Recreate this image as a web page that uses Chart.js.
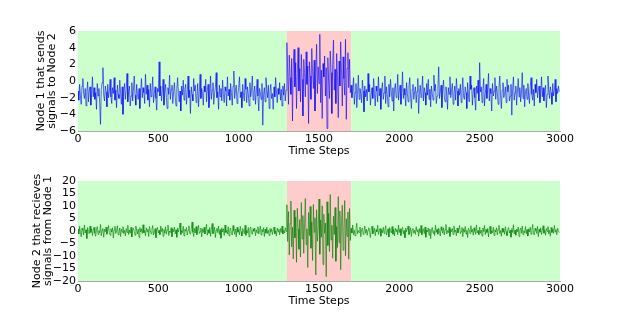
<!DOCTYPE html>
<html>
<head>
<meta charset="utf-8">
<script src="https://cdn.jsdelivr.net/npm/chart.js@4"></script>
<style>
  body { margin: 0; background: #fff; }
  .box { position: absolute; left: 0; width: 623px; height: 160px; }
</style>
</head>
<body>
<div class="box" style="top:0px"><canvas id="top" width="623" height="160"></canvas></div>
<div class="box" style="top:150px"><canvas id="bottom" width="623" height="160"></canvas></div>
<script>
// one sample every 5 time steps (20 per row = 100 steps)
const STEP = 5;

const node1 = [
  -1.2,-2.3,-0.4,-1.7,-2.8,-0.6,0.3,-1.5,-2.1,-0.9,-3.0,-1.3,-0.1,-2.5,-1.1,-0.7,-2.9,-1.6,0.5,-1.9,
  -0.8,-2.2,-1.4,-3.4,-0.3,-1.8,-0.9,-2.6,-5.2,-1.0,-0.2,1.6,-1.7,-2.4,-0.6,-1.3,-3.1,-0.4,-2.0,-1.2,
  0.2,-1.9,-2.7,-0.8,-1.5,0.4,-2.3,-1.1,-3.2,-0.5,-1.6,-2.1,0.1,-1.4,-2.8,-0.7,-4.0,-1.2,-0.3,-2.2,
  -1.0,0.9,-2.5,-1.3,-0.6,-3.0,-1.8,-0.2,-2.4,-1.1,0.6,-1.7,-2.9,-0.4,-1.5,-2.2,-0.9,-3.3,-1.2,0.3,
  -2.0,-0.8,-1.4,-2.7,0.8,-1.6,-0.5,-2.3,-1.0,-3.1,-0.3,-1.9,-1.2,0.5,-2.6,-1.5,-0.7,-2.1,-3.5,-0.9,
  -1.3,2.3,-1.8,-0.6,-2.4,-1.1,0.2,-2.9,-1.4,-0.4,-2.0,-3.3,-0.8,-1.6,0.7,-2.2,-1.0,-0.5,-2.7,-1.3,
  -0.2,-1.9,-3.0,-0.9,0.4,-1.5,-2.5,-1.2,-3.6,-0.6,-1.7,0.1,-2.3,-1.0,-0.4,-2.8,-1.4,0.6,-2.0,-1.1,
  -3.9,-0.7,-1.6,-2.4,0.3,-1.2,-0.5,-2.6,-1.8,-0.3,-3.1,-1.4,0.8,-2.1,-0.9,-1.5,-2.9,-0.6,-1.3,0.2,
  -2.5,-1.0,-0.4,-3.2,-1.7,0.6,-2.2,-1.1,-0.2,-2.8,-1.5,-0.8,1.0,-2.0,-1.3,-3.4,-0.5,-1.9,-0.9,-2.4,
  0.1,-1.6,-2.6,-0.7,-1.2,-3.0,0.5,-1.8,-1.0,-2.3,-0.3,-1.4,-2.9,-0.6,1.2,-2.1,-1.1,-0.5,-2.7,-1.5,
  -0.8,0.5,-2.0,-1.3,-3.2,-0.4,-1.7,-2.4,0.3,-1.0,-2.6,-0.7,-1.5,-3.0,-0.2,-1.9,-1.1,0.6,-2.3,-1.4,
  -0.6,-2.8,-1.2,0.2,-1.8,-3.6,-0.9,-1.4,-2.2,-0.3,-5.3,-1.6,-0.8,-2.5,0.4,-1.1,-2.0,-0.5,-3.3,-1.3,
  -0.4,-2.1,-1.5,-3.4,-0.7,-1.9,0.4,-1.2,-2.6,-0.9,-1.6,-0.2,-2.3,-1.0,-3.0,-0.6,-1.7,-0.3,-2.4,-1.1,
  4.6,1.2,-2.8,3.1,0.4,-1.6,2.7,-4.8,1.9,3.8,-0.7,2.2,-3.3,0.9,4.0,-1.2,1.5,-2.5,3.2,0.2,
  -4.2,2.6,1.0,-1.9,3.5,-0.4,1.8,-5.1,2.3,0.6,-2.2,3.9,1.1,-0.9,2.5,-3.6,0.8,4.4,-1.5,1.7,
  -0.3,5.6,-2.6,1.3,-4.5,2.1,0.5,3.0,-1.8,1.6,-5.7,2.8,0.0,-2.1,3.6,1.0,-3.9,2.0,4.9,-1.1,
  1.4,-2.7,3.3,0.7,-4.4,2.4,-0.6,4.7,1.2,-3.0,2.9,0.3,-1.7,5.0,-4.6,1.5,3.4,-0.8,2.6,-1.4,
  -0.5,-2.0,-1.1,0.4,-2.8,-1.4,-0.3,-3.2,-1.6,0.7,-2.2,-0.9,-1.5,-2.6,0.1,-1.2,-3.7,-0.6,-1.9,-1.0,
  -2.4,0.9,-1.3,-0.4,-2.9,-1.7,-0.8,-2.1,0.3,-1.5,-3.0,-0.6,-1.2,-2.5,0.5,-1.8,-0.9,-3.4,-1.1,-0.2,
  -2.2,-1.4,0.6,-2.7,-0.7,-1.6,-3.1,-0.4,-1.9,0.2,-1.3,-2.4,-0.8,-3.6,-1.0,-0.3,-2.0,-1.5,0.8,-2.3,
  -1.1,-0.5,-2.8,-1.4,1.1,-2.1,-0.9,-1.7,-3.0,-0.2,-1.5,-2.5,-0.6,0.4,-1.8,-3.3,-1.0,-0.4,-2.2,-1.3,
  -0.7,-2.6,-1.2,0.3,-3.9,-1.6,-0.5,-2.0,-1.1,0.6,-2.4,-0.8,-1.4,-2.9,-0.3,-1.7,0.2,-2.2,-1.0,-3.1,
  -0.6,-1.5,-2.3,0.7,-1.2,-0.4,-2.7,-1.8,-0.9,1.7,-2.1,-1.3,-0.5,-3.2,-1.0,0.1,-1.9,-2.5,-0.7,-1.4,
  -3.4,-0.8,-1.6,0.5,-2.0,-1.1,-0.3,-2.8,-1.5,-0.6,-2.3,0.3,-1.2,-3.0,-0.9,-1.7,-0.4,-2.6,-1.3,0.4,
  -1.9,-2.2,-0.7,-1.4,-3.3,-0.2,-1.6,-2.5,0.6,-1.0,-0.5,-2.9,-1.2,-0.8,-2.0,-3.5,-0.6,-1.5,0.1,-2.4,
  2.2,-1.3,-0.7,-2.6,-1.1,0.3,-3.0,-1.6,-0.4,-2.1,-1.0,0.9,-2.4,-0.9,-1.5,-3.6,-0.3,-1.8,-1.2,0.4,
  -2.2,-0.6,-1.4,-2.8,-0.9,0.6,-1.7,-3.3,-1.1,-0.2,-2.0,-1.5,-0.7,-2.6,0.2,-1.3,-0.5,-2.4,-1.8,-0.4,
  -4.1,-1.0,0.5,-2.3,-1.4,-0.6,-2.9,-1.2,0.3,-1.9,-0.8,-2.5,-1.5,1.0,-2.1,-0.5,-3.1,-1.3,-0.9,-2.2,
  -0.3,-1.7,-2.7,-0.7,0.4,-1.6,-2.3,-1.0,-3.0,-0.4,-1.4,0.2,-2.0,-1.1,-0.6,-2.6,-1.5,0.5,-1.9,-0.8,
  -2.4,-1.2,-0.5,-3.2,-1.6,0.6,-1.0,-2.1,-0.7,-1.4,-2.8,-0.3,-1.8,-1.1,0.2,-2.5,-0.9,-1.5,-0.6,-1.3
];

const node2 = [
  0.8,-1.2,1.9,-0.5,-2.3,1.1,0.3,-1.6,2.4,-0.8,0.5,-3.0,1.4,-0.2,-1.1,2.0,-0.6,0.9,-1.8,0.2,
  1.5,-0.9,-2.1,0.6,1.8,-1.4,0.1,-0.7,2.6,-1.9,0.4,1.0,-2.5,0.7,-0.3,1.6,-1.3,0.2,2.2,-0.6,
  -1.7,0.9,-0.4,1.3,-2.8,0.5,1.9,-1.0,0.0,2.1,-1.5,-0.3,1.2,-2.2,0.8,-0.5,1.7,-1.1,0.3,-2.0,
  1.0,-0.6,2.3,-1.4,0.4,-0.9,1.5,-2.4,0.6,1.1,-0.2,-1.7,2.0,0.3,-1.2,0.8,-2.6,1.4,-0.4,0.9,
  -1.0,2.5,-0.7,0.2,-1.9,1.3,-0.3,0.7,-2.2,1.8,0.1,-1.1,0.6,2.2,-1.6,-0.4,1.0,-2.7,0.5,1.5,
  -0.8,0.3,-1.5,2.0,-0.2,1.1,-2.1,0.6,-0.9,1.7,-1.3,0.4,2.4,-1.8,0.0,-0.6,1.3,-2.3,0.8,-0.3,
  1.6,-1.1,0.5,-2.5,1.2,-0.4,0.9,3.2,-1.4,0.2,-0.7,1.9,-2.0,0.7,-0.1,1.4,-1.6,0.3,2.1,-0.9,
  -1.3,0.6,3.6,-0.5,-2.2,1.0,-0.8,1.8,-1.5,0.4,2.3,-1.0,-0.3,1.2,-2.4,0.9,-0.6,1.5,-1.2,0.1,
  2.7,-1.7,0.5,-0.9,1.4,-2.1,0.8,3.0,-1.1,-0.2,1.6,-2.6,0.3,1.1,-0.7,2.0,-1.4,0.6,-2.9,1.3,
  -0.4,0.9,-1.8,2.4,-0.6,0.2,-1.2,1.7,-2.0,0.7,1.2,-0.9,-1.6,2.2,0.1,-1.3,0.8,-2.3,1.5,-0.5,
  0.6,-1.5,1.9,-0.2,-2.0,1.0,0.4,-1.1,2.3,-1.7,0.3,-0.8,1.4,-2.4,0.7,1.6,-0.5,-1.3,0.9,-0.1,
  1.2,-1.9,0.5,-0.7,1.7,-1.2,0.2,2.0,-1.6,0.6,-0.4,1.3,-2.2,0.8,-0.9,1.5,-1.0,0.3,-1.8,1.0,
  -0.5,0.9,-1.4,0.4,1.6,-1.1,0.1,-2.0,1.2,-0.3,0.7,-1.5,1.0,-0.6,2.0,-1.2,0.3,-0.8,1.3,-0.2,
  10.5,-4.2,7.8,-9.6,3.1,12.0,-6.4,1.5,-11.2,8.3,-2.7,5.6,-12.5,9.1,0.8,-7.3,4.6,-10.4,11.4,-3.2,
  6.2,-8.9,2.4,13.0,-5.5,0.9,-14.6,7.4,-1.8,9.8,-6.9,3.7,-11.8,10.6,-0.5,5.3,-17.6,8.5,-4.1,1.2,
  12.8,-9.3,4.4,-2.5,10.1,-13.4,6.7,-0.9,3.2,-18.3,11.7,-5.8,7.1,-8.2,14.6,-3.6,2.3,-10.9,5.9,-1.4,
  9.4,-12.1,1.8,-6.6,13.8,-4.7,8.0,-15.5,3.5,10.3,-7.7,0.4,12.2,-9.9,4.9,-2.2,7.6,-11.3,9.0,-3.8,
  1.1,-0.8,2.4,-1.5,0.3,-2.0,0.9,3.1,-1.1,0.2,-0.6,1.6,-2.3,0.5,1.2,-1.4,-0.2,2.0,-0.9,0.7,
  -1.7,0.4,1.3,-0.5,-2.6,0.8,1.9,-1.2,0.0,1.1,-1.9,0.6,-0.3,2.3,-1.4,0.2,1.0,-2.1,0.5,-0.7,
  1.5,-1.0,0.3,2.1,-1.6,-0.4,0.9,-2.4,1.4,0.1,-0.8,1.8,-1.3,0.6,-2.0,1.1,-0.2,0.7,-1.5,2.4,
  -0.6,0.9,-1.8,0.4,1.5,-1.1,0.2,-2.7,1.2,-0.3,0.8,2.0,-1.4,-0.5,1.3,-2.2,0.6,1.0,-0.9,0.3,
  -1.3,1.7,-0.2,0.6,-2.1,1.0,-0.7,2.2,-1.5,0.3,0.9,-1.1,1.6,-2.5,0.4,-0.4,1.2,-1.7,0.8,-3.1,
  0.5,1.4,-1.0,0.1,-1.8,2.3,-0.6,0.7,-1.3,1.1,-0.2,-2.0,1.7,0.3,-0.9,1.3,-1.6,0.6,2.6,-1.2,
  0.2,-0.7,1.5,-2.2,0.8,-0.3,1.0,-1.4,2.0,-0.5,0.4,-1.9,1.2,-0.8,0.6,2.2,-1.1,-0.2,1.4,-2.3,
  0.9,-0.5,1.8,-1.2,0.3,-2.6,1.1,0.5,-1.0,2.1,-0.4,0.7,-1.7,1.3,-0.1,-1.3,2.4,-0.8,0.2,-1.5,
  1.6,-0.9,0.4,-2.0,1.2,-0.3,2.2,-1.4,0.6,-0.6,1.0,-2.4,0.8,1.9,-1.1,0.1,-0.7,1.5,-1.8,0.5,
  -0.4,1.3,-1.6,0.7,2.3,-1.0,0.2,-2.1,1.1,-0.5,0.9,-1.3,1.7,-0.2,-1.9,0.6,1.4,-0.8,0.3,-2.5,
  1.0,-0.6,2.5,-1.2,0.4,-1.7,0.8,-0.3,1.6,-2.2,0.5,1.2,-0.9,2.0,-1.5,0.1,-0.7,1.8,-1.1,0.6,
  -2.0,0.9,-0.4,1.5,-1.3,0.3,2.6,-0.8,-1.6,1.1,0.2,-1.0,1.9,-2.3,0.7,-0.5,1.3,-1.4,0.4,2.1,
  -0.9,0.5,-1.7,1.0,-0.2,1.8,-1.2,0.3,-2.1,1.4,-0.6,0.8,-1.0,2.2,-0.4,0.6,-1.5,1.1,0.2,-0.7
];

// shaded spans: [from, to, colour]
const spans = [
  [0, 1300, '#ccffcc'],
  [1300, 1700, '#ffcccc'],
  [1700, 3000, '#ccffcc']
];

const shading = {
  id: 'shading',
  beforeDatasetsDraw(chart) {
    const { ctx, chartArea, scales } = chart;
    ctx.save();
    spans.forEach(s => {
      const x1 = scales.x.getPixelForValue(s[0]);
      const x2 = scales.x.getPixelForValue(s[1]);
      ctx.fillStyle = s[2];
      ctx.fillRect(x1, chartArea.top, x2 - x1, chartArea.bottom - chartArea.top);
    });
    ctx.restore();
  }
};

const font = { family: 'DejaVu Sans', size: 11 };
const titleFont = { family: 'DejaVu Sans', size: 11, lineHeight: 1.05 };
const minus = v => String(v).replace('-', '\u2212');

// left = where the y title starts, yWidth = room for title + tick labels
function makeChart(id, values, colour, yMin, yMax, yStep, title, left, yWidth) {
  const points = values.map((v, i) => ({ x: i * STEP, y: v }));
  return new Chart(document.getElementById(id), {
    type: 'line',
    data: { datasets: [{ data: points, borderColor: colour, borderWidth: 0.8, pointRadius: 0, tension: 0 }] },
    options: {
      responsive: false,
      animation: false,
      layout: { padding: { top: 31, right: 63, left: left, bottom: 0 } },
      plugins: { legend: { display: false }, tooltip: { enabled: false } },
      scales: {
        x: {
          type: 'linear', min: 0, max: 3000,
          ticks: { stepSize: 500, color: '#000', font: font, padding: 2, maxRotation: 0, callback: v => String(v) },
          grid: { display: false, drawTicks: false },
          border: { color: '#aaa' },
          title: { display: true, text: 'Time Steps', color: '#000', font: font, padding: { top: 0, bottom: 2 } },
          afterFit: s => { s.height = 29; }
        },
        y: {
          min: yMin, max: yMax,
          ticks: { stepSize: yStep, autoSkip: false, color: '#000', font: font, padding: 2, callback: minus },
          grid: { display: false, drawTicks: false },
          border: { color: '#aaa' },
          title: { display: true, text: title, color: '#000', font: titleFont, padding: { top: 0, bottom: 0 } },
          afterFit: s => { s.width = yWidth; }
        }
      }
    },
    plugins: [shading]
  });
}

makeChart('top', node1, 'rgba(0,0,255,0.75)', -6, 6, 2, ['Node 1 that sends', 'signals to Node 2'], 35, 43);
makeChart('bottom', node2, 'rgba(0,128,0,0.8)', -20, 20, 5, ['Node 2 that recieves', 'signals from Node 1'], 31, 47);
</script>
</body>
</html>
